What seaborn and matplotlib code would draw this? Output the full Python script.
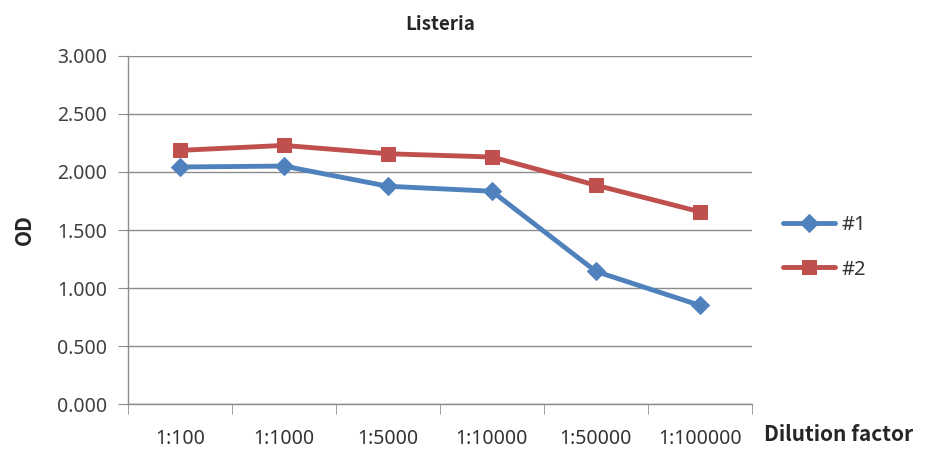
import matplotlib
matplotlib.use("Agg")
import matplotlib.pyplot as plt
import seaborn as sns
import pandas as pd
import numpy as np
from matplotlib.ticker import FixedLocator, FormatStrFormatter

dilutions = ["1:100", "1:1000", "1:5000", "1:10000", "1:50000", "1:100000"]
od_1 = [2.043, 2.051, 1.877, 1.834, 1.143, 0.850]
od_2 = [2.186, 2.229, 2.157, 2.129, 1.886, 1.657]
series = ["#1", "#2"]

df = pd.DataFrame({
    "Dilution": dilutions * 2,
    "OD": od_1 + od_2,
    "Sample": [series[0]] * len(dilutions) + [series[1]] * len(dilutions),
})

sns.set_style("white")
plt.rcParams["font.family"] = ["Noto Sans", "DejaVu Sans"]
bold_font = ["Noto Sans CJK KR", "DejaVu Sans"]

fig = plt.figure(figsize=(9.4, 4.51), dpi=100)
ax = fig.add_axes([0.136, 0.104, 0.664, 0.772])

palette = {"#1": "#4F81BD", "#2": "#C0504D"}
markers = {"#1": "D", "#2": "s"}
sizes = {"#1": 9, "#2": 10}

for name in series:
    sub = df[df["Sample"] == name]
    sns.lineplot(data=sub, x="Dilution", y="OD", color=palette[name],
                 marker=markers[name], markersize=sizes[name],
                 markeredgecolor=palette[name], linewidth=3.5,
                 label=name, ax=ax, sort=False)

ax.set_ylim(0, 3.0)
ax.set_xlim(-0.5, len(dilutions) - 0.5)
ax.set_yticks(np.arange(0, 3.01, 0.5))
ax.yaxis.set_major_formatter(FormatStrFormatter("%.3f"))
ax.yaxis.grid(True, color="#8c8c8c", linewidth=1)
ax.set_axisbelow(True)

ax.set_xticks(range(len(dilutions)))
ax.set_xticklabels(dilutions)
ax.xaxis.set_minor_locator(FixedLocator(np.arange(-0.5, len(dilutions), 1.0)))
ax.tick_params(axis="x", which="major", length=0, pad=18, labelsize=14, colors="#333333")
ax.tick_params(axis="x", which="minor", length=7, color="#8c8c8c", direction="out", bottom=True)
ax.tick_params(axis="y", length=7, color="#8c8c8c", direction="out", left=True,
               labelsize=14, labelcolor="#404040", pad=8)

for side in ["top", "right"]:
    ax.spines[side].set_visible(False)
for side in ["left", "bottom"]:
    ax.spines[side].set_color("#8c8c8c")
    ax.spines[side].set_linewidth(1)

ax.set_xlabel("")
ax.set_ylabel("OD", fontsize=15, fontweight="bold", family=bold_font, labelpad=16)
ax.set_title("Listeria", fontsize=13.5, fontweight="bold", family=bold_font, pad=19)

fig.text(0.813, 0.022, "Dilution factor", fontsize=15, fontweight="bold",
         family=bold_font, ha="left", va="baseline")

leg = ax.legend(loc="center left", bbox_to_anchor=(1.02, 0.45), frameon=False,
                fontsize=14.5, handlelength=2.6, labelspacing=1.2, handletextpad=0.3)
for t in leg.get_texts():
    t.set_color("#333333")

fig.savefig("out.png", dpi=100, facecolor="white")
